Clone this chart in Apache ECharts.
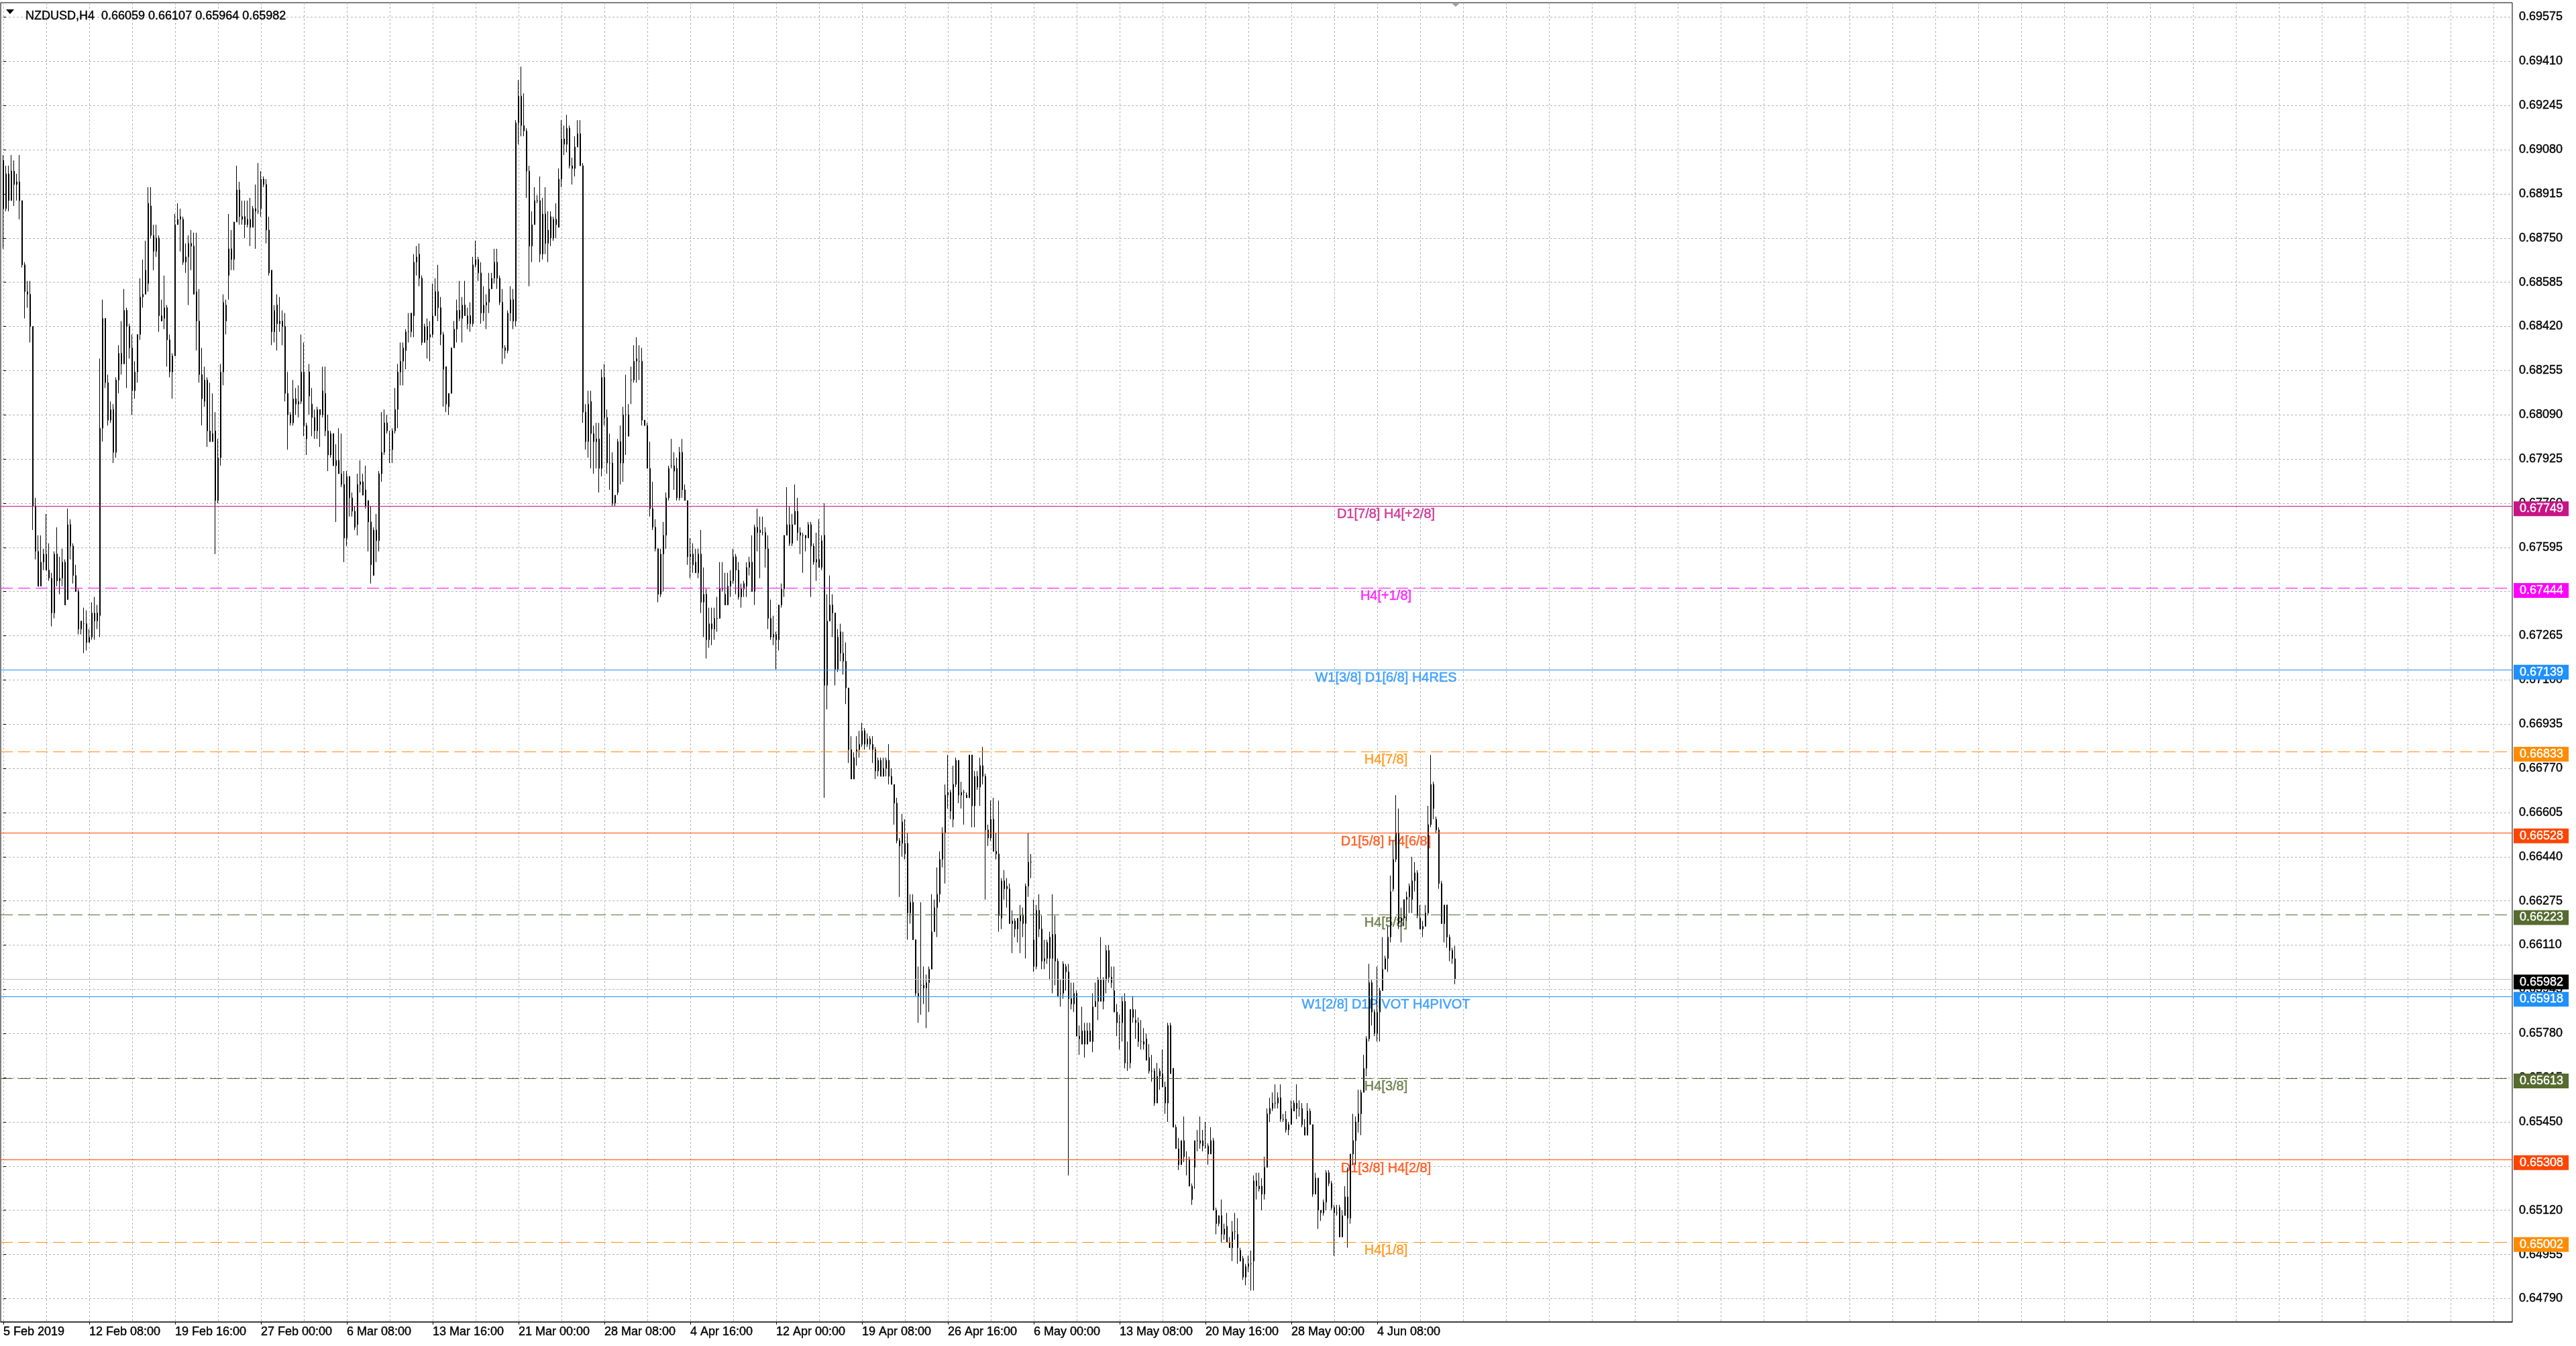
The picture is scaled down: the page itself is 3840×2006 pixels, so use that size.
<!DOCTYPE html>
<html>
<head>
<meta charset="utf-8">
<script src="https://cdn.jsdelivr.net/npm/echarts@6/dist/echarts.min.js"></script>
<style>
html,body{margin:0;padding:0;background:#ffffff;}
#chart{width:3840px;height:2006px;}
</style>
</head>
<body>
<div id="chart"></div>
<script>
// ---------------- DATA ----------------
const chartTitle = 'NZDUSD,H4  0.66059 0.66107 0.65964 0.65982';

// x-axis tick labels (one every 32 H4 bars)
const timeLabels = ['5 Feb 2019','12 Feb 08:00','19 Feb 16:00','27 Feb 00:00','6 Mar 08:00','13 Mar 16:00',
  '21 Mar 00:00','28 Mar 08:00','4 Apr 16:00','12 Apr 00:00','19 Apr 08:00','26 Apr 16:00','6 May 00:00',
  '13 May 08:00','20 May 16:00','28 May 00:00','4 Jun 08:00'];

// price-scale tick labels
const priceTicks = [0.69575,0.69410,0.69245,0.69080,0.68915,0.68750,0.68585,0.68420,0.68255,0.68090,
  0.67925,0.67760,0.67595,0.67430,0.67265,0.67100,0.66935,0.66770,0.66605,0.66440,0.66275,0.66110,
  0.65945,0.65780,0.65615,0.65450,0.65285,0.65120,0.64955,0.64790];

// Murrey-math style levels
const levelPrices = [0.67749,0.67444,0.67139,0.66833,0.66528,0.66223,0.65918,0.65613,0.65308,0.65002];
const levelNames = ['D1[7/8] H4[+2/8]','H4[+1/8]','W1[3/8] D1[6/8] H4RES','H4[7/8]','D1[5/8] H4[6/8]',
  'H4[5/8]','W1[2/8] D1PIVOT H4PIVOT','H4[3/8]','D1[3/8] H4[2/8]','H4[1/8]'];
const bidPrice = 0.65982;

// H4 bars: [open, high, low, close]
const bars = [
[0.6904,0.6906,0.6871,0.6886],[0.6886,0.6902,0.6885,0.6899],[0.6899,0.6902,0.6885,0.6889],[0.6889,0.6906,0.6889,0.6900],
[0.6900,0.6904,0.6887,0.6895],[0.6895,0.6899,0.6889,0.6896],[0.6896,0.6906,0.6882,0.6889],[0.6889,0.6889,0.6864,0.6865],
[0.6865,0.6866,0.6845,0.6855],[0.6855,0.6859,0.6849,0.6854],[0.6854,0.6859,0.6836,0.6842],[0.6842,0.6842,0.6766,0.6775],
[0.6775,0.6778,0.6755,0.6758],[0.6758,0.6764,0.6745,0.6745],[0.6745,0.6764,0.6745,0.6754],[0.6754,0.6759,0.6751,0.6757],
[0.6757,0.6772,0.6751,0.6751],[0.6751,0.6761,0.6747,0.6748],[0.6748,0.6750,0.6730,0.6735],[0.6735,0.6758,0.6733,0.6757],
[0.6757,0.6767,0.6745,0.6747],[0.6747,0.6756,0.6742,0.6748],[0.6748,0.6759,0.6745,0.6754],[0.6754,0.6755,0.6738,0.6738],
[0.6740,0.6774,0.6740,0.6768],[0.6768,0.6770,0.6755,0.6760],[0.6760,0.6761,0.6746,0.6749],[0.6749,0.6753,0.6743,0.6743],
[0.6743,0.6744,0.6727,0.6729],[0.6729,0.6732,0.6727,0.6732],[0.6731,0.6737,0.6720,0.6731],[0.6731,0.6736,0.6721,0.6724],
[0.6724,0.6729,0.6724,0.6726],[0.6726,0.6739,0.6725,0.6735],[0.6735,0.6741,0.6725,0.6732],[0.6732,0.6738,0.6729,0.6735],
[0.6734,0.6830,0.6726,0.6804],[0.6804,0.6852,0.6799,0.6845],[0.6845,0.6845,0.6819,0.6821],[0.6821,0.6824,0.6805,0.6807],
[0.6807,0.6814,0.6806,0.6811],[0.6811,0.6813,0.6791,0.6795],[0.6795,0.6823,0.6793,0.6822],[0.6822,0.6835,0.6817,0.6832],
[0.6832,0.6844,0.6824,0.6828],[0.6828,0.6856,0.6828,0.6848],[0.6848,0.6849,0.6819,0.6842],[0.6842,0.6843,0.6830,0.6834],
[0.6834,0.6839,0.6809,0.6818],[0.6818,0.6829,0.6815,0.6825],[0.6825,0.6839,0.6821,0.6839],[0.6839,0.6860,0.6837,0.6853],
[0.6853,0.6867,0.6849,0.6854],[0.6854,0.6874,0.6854,0.6863],[0.6858,0.6894,0.6855,0.6888],[0.6887,0.6894,0.6875,0.6876],
[0.6876,0.6880,0.6863,0.6870],[0.6870,0.6880,0.6868,0.6875],[0.6875,0.6876,0.6840,0.6846],[0.6846,0.6852,0.6844,0.6844],
[0.6845,0.6861,0.6841,0.6849],[0.6849,0.6850,0.6827,0.6837],[0.6837,0.6839,0.6823,0.6825],[0.6825,0.6832,0.6815,0.6831],
[0.6831,0.6884,0.6831,0.6880],[0.6880,0.6888,0.6880,0.6882],[0.6882,0.6886,0.6870,0.6883],[0.6882,0.6883,0.6865,0.6866],
[0.6866,0.6873,0.6862,0.6868],[0.6868,0.6876,0.6850,0.6873],[0.6873,0.6878,0.6863,0.6872],[0.6872,0.6877,0.6854,0.6854],
[0.6855,0.6877,0.6833,0.6844],[0.6844,0.6856,0.6821,0.6824],[0.6824,0.6834,0.6805,0.6815],[0.6814,0.6827,0.6812,0.6822],
[0.6822,0.6823,0.6797,0.6803],[0.6803,0.6821,0.6799,0.6799],[0.6799,0.6817,0.6799,0.6802],[0.6803,0.6810,0.6757,0.6777],
[0.6777,0.6800,0.6776,0.6793],[0.6793,0.6828,0.6790,0.6825],[0.6825,0.6854,0.6820,0.6851],[0.6850,0.6852,0.6839,0.6844],
[0.6861,0.6884,0.6852,0.6871],[0.6871,0.6878,0.6863,0.6867],[0.6867,0.6881,0.6863,0.6881],[0.6881,0.6902,0.6881,0.6893],
[0.6893,0.6896,0.6880,0.6883],[0.6883,0.6889,0.6880,0.6882],[0.6883,0.6889,0.6875,0.6880],[0.6880,0.6889,0.6879,0.6882],
[0.6882,0.6890,0.6872,0.6879],[0.6879,0.6887,0.6879,0.6886],[0.6885,0.6895,0.6871,0.6886],[0.6885,0.6903,0.6884,0.6885],
[0.6886,0.6900,0.6883,0.6897],[0.6897,0.6898,0.6894,0.6895],[0.6895,0.6897,0.6873,0.6878],[0.6878,0.6883,0.6861,0.6862],
[0.6863,0.6863,0.6835,0.6840],[0.6840,0.6850,0.6836,0.6848],[0.6850,0.6854,0.6833,0.6843],[0.6843,0.6853,0.6840,0.6844],
[0.6844,0.6848,0.6835,0.6842],[0.6842,0.6847,0.6814,0.6817],[0.6817,0.6825,0.6796,0.6809],[0.6809,0.6810,0.6805,0.6806],
[0.6806,0.6822,0.6805,0.6815],[0.6815,0.6819,0.6809,0.6813],[0.6813,0.6820,0.6808,0.6814],[0.6814,0.6839,0.6813,0.6825],
[0.6825,0.6836,0.6801,0.6805],[0.6805,0.6806,0.6794,0.6800],[0.6825,0.6828,0.6809,0.6816],[0.6813,0.6819,0.6801,0.6808],
[0.6808,0.6811,0.6800,0.6803],[0.6803,0.6812,0.6800,0.6811],[0.6811,0.6811,0.6797,0.6809],[0.6809,0.6827,0.6808,0.6818],
[0.6817,0.6827,0.6801,0.6803],[0.6803,0.6809,0.6788,0.6794],[0.6794,0.6803,0.6793,0.6802],[0.6802,0.6802,0.6790,0.6790],
[0.6790,0.6798,0.6769,0.6792],[0.6792,0.6804,0.6787,0.6787],[0.6787,0.6802,0.6782,0.6783],[0.6783,0.6788,0.6754,0.6763],
[0.6763,0.6788,0.6760,0.6786],[0.6786,0.6786,0.6771,0.6778],[0.6778,0.6780,0.6771,0.6773],[0.6773,0.6775,0.6766,0.6767],
[0.6768,0.6787,0.6764,0.6783],[0.6783,0.6792,0.6780,0.6784],[0.6784,0.6787,0.6779,0.6779],[0.6781,0.6790,0.6774,0.6775],
[0.6777,0.6777,0.6758,0.6769],[0.6769,0.6775,0.6746,0.6753],[0.6749,0.6767,0.6749,0.6766],[0.6766,0.6772,0.6754,0.6762],
[0.6762,0.6788,0.6758,0.6787],[0.6787,0.6810,0.6784,0.6795],[0.6795,0.6811,0.6794,0.6806],[0.6806,0.6809,0.6802,0.6803],
[0.6796,0.6803,0.6791,0.6796],[0.6796,0.6804,0.6791,0.6803],[0.6803,0.6819,0.6802,0.6811],[0.6811,0.6828,0.6804,0.6825],
[0.6825,0.6836,0.6820,0.6829],[0.6829,0.6836,0.6820,0.6834],[0.6833,0.6841,0.6826,0.6840],[0.6840,0.6847,0.6836,0.6840],
[0.6840,0.6847,0.6838,0.6847],[0.6846,0.6869,0.6838,0.6866],[0.6866,0.6872,0.6861,0.6868],[0.6869,0.6873,0.6857,0.6860],
[0.6860,0.6861,0.6835,0.6836],[0.6836,0.6843,0.6836,0.6842],[0.6842,0.6845,0.6830,0.6837],[0.6838,0.6844,0.6829,0.6839],
[0.6839,0.6858,0.6838,0.6846],[0.6846,0.6860,0.6846,0.6855],[0.6855,0.6865,0.6844,0.6849],[0.6849,0.6853,0.6835,0.6839],
[0.6839,0.6840,0.6812,0.6826],[0.6827,0.6827,0.6810,0.6813],[0.6812,0.6817,0.6809,0.6817],[0.6817,0.6834,0.6817,0.6834],
[0.6834,0.6844,0.6834,0.6841],[0.6841,0.6852,0.6836,0.6848],[0.6848,0.6859,0.6844,0.6845],[0.6845,0.6853,0.6836,0.6850],
[0.6850,0.6859,0.6846,0.6846],[0.6846,0.6849,0.6841,0.6843],[0.6846,0.6851,0.6840,0.6843],[0.6843,0.6868,0.6842,0.6865],
[0.6865,0.6874,0.6864,0.6867],[0.6867,0.6868,0.6859,0.6862],[0.6862,0.6866,0.6843,0.6847],[0.6847,0.6857,0.6844,0.6850],
[0.6850,0.6854,0.6841,0.6851],[0.6851,0.6862,0.6847,0.6856],[0.6856,0.6862,0.6856,0.6860],[0.6860,0.6871,0.6858,0.6866],
[0.6866,0.6871,0.6856,0.6860],[0.6860,0.6861,0.6850,0.6851],[0.6851,0.6856,0.6828,0.6834],[0.6834,0.6835,0.6830,0.6833],
[0.6833,0.6848,0.6832,0.6847],[0.6847,0.6857,0.6844,0.6852],[0.6852,0.6856,0.6841,0.6844],[0.6844,0.6919,0.6842,0.6918],
[0.6918,0.6934,0.6910,0.6928],[0.6928,0.6939,0.6913,0.6917],[0.6917,0.6929,0.6913,0.6915],[0.6915,0.6916,0.6890,0.6900],
[0.6900,0.6902,0.6857,0.6872],[0.6872,0.6885,0.6866,0.6880],[0.6880,0.6894,0.6880,0.6889],[0.6889,0.6891,0.6888,0.6889],
[0.6889,0.6898,0.6866,0.6869],[0.6869,0.6890,0.6867,0.6884],[0.6884,0.6894,0.6869,0.6873],[0.6873,0.6885,0.6866,0.6878],
[0.6883,0.6885,0.6872,0.6875],[0.6875,0.6883,0.6874,0.6882],[0.6882,0.6888,0.6875,0.6880],[0.6879,0.6901,0.6879,0.6897],
[0.6897,0.6919,0.6894,0.6912],[0.6912,0.6917,0.6906,0.6910],[0.6910,0.6921,0.6907,0.6916],[0.6916,0.6917,0.6901,0.6902],
[0.6902,0.6905,0.6895,0.6901],[0.6901,0.6913,0.6898,0.6909],[0.6909,0.6919,0.6909,0.6914],[0.6914,0.6919,0.6902,0.6902],
[0.6902,0.6903,0.6806,0.6810],[0.6810,0.6813,0.6796,0.6799],[0.6799,0.6818,0.6793,0.6813],[0.6814,0.6818,0.6789,0.6802],
[0.6802,0.6805,0.6787,0.6799],[0.6799,0.6806,0.6789,0.6800],[0.6800,0.6806,0.6780,0.6789],[0.6789,0.6826,0.6786,0.6823],
[0.6823,0.6828,0.6805,0.6808],[0.6808,0.6811,0.6787,0.6791],[0.6791,0.6802,0.6781,0.6791],[0.6791,0.6795,0.6775,0.6776],
[0.6776,0.6779,0.6775,0.6779],[0.6780,0.6800,0.6779,0.6799],[0.6799,0.6805,0.6783,0.6791],[0.6791,0.6812,0.6784,0.6809],
[0.6809,0.6824,0.6794,0.6809],[0.6809,0.6813,0.6801,0.6801],[0.6822,0.6827,0.6813,0.6822],[0.6822,0.6835,0.6821,0.6829],
[0.6829,0.6838,0.6821,0.6830],[0.6829,0.6835,0.6822,0.6829],[0.6829,0.6834,0.6805,0.6807],[0.6807,0.6807,0.6805,0.6805],
[0.6805,0.6806,0.6789,0.6789],[0.6789,0.6799,0.6771,0.6774],[0.6774,0.6784,0.6766,0.6767],[0.6767,0.6770,0.6758,0.6759],
[0.6759,0.6759,0.6739,0.6742],[0.6742,0.6759,0.6741,0.6757],[0.6757,0.6769,0.6743,0.6764],[0.6764,0.6780,0.6759,0.6778],
[0.6778,0.6790,0.6777,0.6789],[0.6790,0.6800,0.6789,0.6790],[0.6790,0.6795,0.6781,0.6788],[0.6789,0.6793,0.6777,0.6778],
[0.6778,0.6797,0.6777,0.6795],[0.6795,0.6800,0.6778,0.6781],[0.6781,0.6783,0.6777,0.6777],[0.6777,0.6777,0.6753,0.6756],
[0.6756,0.6763,0.6748,0.6757],[0.6757,0.6761,0.6750,0.6753],[0.6754,0.6759,0.6750,0.6750],[0.6750,0.6759,0.6748,0.6757],
[0.6757,0.6766,0.6735,0.6739],[0.6739,0.6752,0.6726,0.6742],[0.6742,0.6744,0.6718,0.6725],[0.6725,0.6737,0.6722,0.6731],
[0.6731,0.6737,0.6723,0.6729],[0.6729,0.6737,0.6725,0.6733],[0.6733,0.6741,0.6728,0.6733],[0.6733,0.6754,0.6733,0.6744],
[0.6744,0.6754,0.6743,0.6744],[0.6742,0.6750,0.6738,0.6738],[0.6738,0.6750,0.6738,0.6745],[0.6745,0.6751,0.6741,0.6747],
[0.6747,0.6759,0.6746,0.6756],[0.6756,0.6757,0.6742,0.6751],[0.6751,0.6754,0.6740,0.6741],[0.6741,0.6746,0.6737,0.6744],
[0.6744,0.6747,0.6741,0.6746],[0.6745,0.6754,0.6741,0.6752],[0.6752,0.6756,0.6749,0.6754],[0.6754,0.6764,0.6743,0.6743],
[0.6743,0.6768,0.6738,0.6767],[0.6767,0.6774,0.6758,0.6765],[0.6765,0.6771,0.6748,0.6766],[0.6765,0.6771,0.6764,0.6765],
[0.6765,0.6767,0.6752,0.6759],[0.6759,0.6764,0.6729,0.6733],[0.6733,0.6740,0.6725,0.6726],[0.6727,0.6734,0.6723,0.6726],
[0.6727,0.6728,0.6714,0.6725],[0.6725,0.6738,0.6721,0.6738],[0.6738,0.6746,0.6737,0.6744],[0.6744,0.6764,0.6741,0.6764],
[0.6764,0.6782,0.6764,0.6768],[0.6768,0.6775,0.6760,0.6761],[0.6761,0.6772,0.6760,0.6768],[0.6768,0.6783,0.6768,0.6773],
[0.6773,0.6778,0.6762,0.6765],[0.6765,0.6767,0.6757,0.6764],[0.6764,0.6765,0.6750,0.6764],[0.6764,0.6764,0.6758,0.6763],
[0.6763,0.6769,0.6763,0.6768],[0.6768,0.6769,0.6741,0.6760],[0.6760,0.6761,0.6753,0.6754],[0.6754,0.6765,0.6747,0.6755],
[0.6755,0.6770,0.6752,0.6752],[0.6752,0.6764,0.6751,0.6762],[0.6764,0.6776,0.6666,0.6708],[0.6708,0.6742,0.6699,0.6732],
[0.6732,0.6749,0.6732,0.6738],[0.6738,0.6742,0.6726,0.6735],[0.6735,0.6735,0.6708,0.6714],[0.6714,0.6729,0.6713,0.6726],
[0.6728,0.6731,0.6717,0.6720],[0.6720,0.6728,0.6712,0.6717],[0.6717,0.6724,0.6701,0.6707],[0.6707,0.6707,0.6679,0.6684],
[0.6684,0.6689,0.6673,0.6673],[0.6673,0.6683,0.6673,0.6681],[0.6683,0.6689,0.6678,0.6684],[0.6684,0.6691,0.6681,0.6686],
[0.6686,0.6694,0.6685,0.6691],[0.6691,0.6692,0.6684,0.6686],[0.6686,0.6690,0.6685,0.6688],[0.6688,0.6689,0.6684,0.6686],
[0.6686,0.6689,0.6679,0.6684],[0.6684,0.6685,0.6673,0.6676],[0.6676,0.6681,0.6674,0.6680],[0.6680,0.6681,0.6674,0.6674],
[0.6674,0.6681,0.6674,0.6677],[0.6677,0.6681,0.6674,0.6680],[0.6680,0.6686,0.6671,0.6674],[0.6674,0.6677,0.6671,0.6671],
[0.6671,0.6671,0.6656,0.6664],[0.6664,0.6666,0.6649,0.6650],[0.6650,0.6651,0.6629,0.6648],[0.6649,0.6660,0.6644,0.6657],
[0.6645,0.6658,0.6643,0.6649],[0.6649,0.6653,0.6613,0.6623],[0.6623,0.6630,0.6619,0.6627],[0.6627,0.6630,0.6613,0.6613],
[0.6613,0.6613,0.6592,0.6593],[0.6593,0.6603,0.6582,0.6592],[0.6596,0.6627,0.6585,0.6596],[0.6596,0.6603,0.6589,0.6595],
[0.6595,0.6600,0.6580,0.6597],[0.6597,0.6603,0.6586,0.6602],[0.6602,0.6630,0.6602,0.6616],[0.6616,0.6628,0.6616,0.6625],
[0.6625,0.6640,0.6614,0.6630],[0.6630,0.6646,0.6627,0.6643],[0.6643,0.6655,0.6640,0.6653],[0.6653,0.6671,0.6634,0.6667],
[0.6667,0.6682,0.6662,0.6668],[0.6668,0.6669,0.6658,0.6661],[0.6658,0.6678,0.6655,0.6671],[0.6671,0.6681,0.6670,0.6680],
[0.6680,0.6680,0.6664,0.6667],[0.6667,0.6672,0.6662,0.6668],[0.6668,0.6669,0.6656,0.6668],[0.6667,0.6668,0.6666,0.6666],
[0.6666,0.6682,0.6666,0.6682],[0.6682,0.6682,0.6655,0.6663],[0.6663,0.6676,0.6655,0.6674],[0.6674,0.6676,0.6669,0.6670],
[0.6670,0.6681,0.6663,0.6678],[0.6678,0.6685,0.6671,0.6674],[0.6674,0.6675,0.6628,0.6654],[0.6654,0.6656,0.6648,0.6651],
[0.6651,0.6665,0.6650,0.6658],[0.6658,0.6666,0.6646,0.6646],[0.6646,0.6653,0.6643,0.6645],[0.6645,0.6665,0.6616,0.6622],
[0.6621,0.6636,0.6617,0.6635],[0.6635,0.6639,0.6628,0.6632],[0.6632,0.6636,0.6625,0.6633],[0.6632,0.6634,0.6619,0.6619],
[0.6619,0.6624,0.6608,0.6620],[0.6620,0.6621,0.6614,0.6617],[0.6617,0.6621,0.6612,0.6621],[0.6620,0.6626,0.6608,0.6622],
[0.6622,0.6625,0.6614,0.6619],[0.6619,0.6634,0.6606,0.6633],[0.6633,0.6653,0.6629,0.6642],[0.6642,0.6645,0.6636,0.6642],
[0.6613,0.6628,0.6601,0.6603],[0.6603,0.6626,0.6602,0.6624],[0.6624,0.6630,0.6614,0.6617],[0.6617,0.6622,0.6602,0.6605],
[0.6605,0.6613,0.6602,0.6606],[0.6606,0.6613,0.6604,0.6612],[0.6614,0.6616,0.6598,0.6606],[0.6606,0.6630,0.6593,0.6615],
[0.6615,0.6622,0.6596,0.6605],[0.6605,0.6606,0.6592,0.6592],[0.6593,0.6598,0.6588,0.6593],[0.6593,0.6605,0.6591,0.6604],
[0.6603,0.6604,0.6594,0.6601],[0.6601,0.6604,0.6525,0.6591],[0.6591,0.6597,0.6587,0.6589],[0.6589,0.6597,0.6586,0.6593],
[0.6593,0.6594,0.6577,0.6577],[0.6577,0.6581,0.6570,0.6576],[0.6574,0.6588,0.6574,0.6579],[0.6579,0.6582,0.6569,0.6574],
[0.6574,0.6582,0.6574,0.6579],[0.6579,0.6582,0.6575,0.6575],[0.6575,0.6593,0.6571,0.6588],[0.6588,0.6597,0.6588,0.6590],
[0.6590,0.6599,0.6583,0.6598],[0.6598,0.6614,0.6590,0.6590],[0.6590,0.6599,0.6587,0.6598],[0.6598,0.6611,0.6593,0.6609],
[0.6609,0.6611,0.6597,0.6599],[0.6599,0.6603,0.6595,0.6597],[0.6594,0.6603,0.6586,0.6586],[0.6586,0.6589,0.6577,0.6582],
[0.6582,0.6585,0.6572,0.6582],[0.6582,0.6592,0.6575,0.6590],[0.6590,0.6593,0.6565,0.6567],[0.6567,0.6575,0.6564,0.6567],
[0.6567,0.6587,0.6565,0.6587],[0.6587,0.6592,0.6582,0.6584],[0.6583,0.6587,0.6576,0.6582],[0.6582,0.6584,0.6573,0.6575],
[0.6575,0.6583,0.6572,0.6575],[0.6575,0.6580,0.6572,0.6574],[0.6576,0.6578,0.6568,0.6568],[0.6569,0.6574,0.6563,0.6564],
[0.6564,0.6570,0.6560,0.6564],[0.6564,0.6565,0.6551,0.6552],[0.6552,0.6567,0.6552,0.6562],[0.6562,0.6565,0.6557,0.6564],
[0.6563,0.6572,0.6558,0.6558],[0.6558,0.6560,0.6548,0.6552],[0.6552,0.6582,0.6545,0.6581],[0.6581,0.6582,0.6563,0.6563],
[0.6565,0.6565,0.6543,0.6543],[0.6543,0.6544,0.6535,0.6535],[0.6535,0.6539,0.6527,0.6529],[0.6529,0.6538,0.6529,0.6538],
[0.6538,0.6547,0.6530,0.6532],[0.6531,0.6534,0.6525,0.6531],[0.6531,0.6532,0.6521,0.6521],[0.6521,0.6522,0.6514,0.6516],
[0.6528,0.6538,0.6520,0.6538],[0.6538,0.6542,0.6534,0.6538],[0.6538,0.6547,0.6535,0.6537],[0.6538,0.6542,0.6534,0.6536],
[0.6536,0.6545,0.6535,0.6536],[0.6536,0.6537,0.6529,0.6533],[0.6533,0.6543,0.6533,0.6538],[0.6538,0.6539,0.6512,0.6512],
[0.6512,0.6513,0.6503,0.6507],[0.6507,0.6510,0.6506,0.6510],[0.6510,0.6516,0.6500,0.6503],[0.6503,0.6507,0.6501,0.6505],
[0.6506,0.6511,0.6500,0.6500],[0.6500,0.6502,0.6498,0.6498],[0.6498,0.6508,0.6493,0.6504],[0.6504,0.6511,0.6501,0.6504],
[0.6503,0.6509,0.6492,0.6498],[0.6497,0.6498,0.6493,0.6493],[0.6494,0.6495,0.6486,0.6487],[0.6487,0.6492,0.6484,0.6491],
[0.6491,0.6495,0.6489,0.6492],[0.6492,0.6497,0.6482,0.6492],[0.6493,0.6525,0.6482,0.6523],[0.6523,0.6526,0.6516,0.6521],
[0.6520,0.6526,0.6519,0.6521],[0.6521,0.6524,0.6512,0.6518],[0.6518,0.6532,0.6516,0.6528],[0.6528,0.6550,0.6528,0.6548],
[0.6548,0.6554,0.6545,0.6550],[0.6550,0.6556,0.6549,0.6552],[0.6552,0.6559,0.6550,0.6552],[0.6552,0.6556,0.6550,0.6554],
[0.6554,0.6559,0.6545,0.6546],[0.6546,0.6548,0.6545,0.6546],[0.6546,0.6549,0.6541,0.6542],[0.6542,0.6545,0.6540,0.6544],
[0.6544,0.6553,0.6544,0.6550],[0.6549,0.6553,0.6549,0.6552],[0.6552,0.6559,0.6546,0.6550],[0.6550,0.6553,0.6547,0.6550],
[0.6550,0.6552,0.6543,0.6544],[0.6543,0.6546,0.6540,0.6540],[0.6540,0.6552,0.6540,0.6549],[0.6549,0.6550,0.6544,0.6544],
[0.6544,0.6544,0.6517,0.6518],[0.6518,0.6526,0.6518,0.6524],[0.6524,0.6524,0.6505,0.6512],[0.6511,0.6512,0.6508,0.6512],
[0.6511,0.6516,0.6510,0.6515],[0.6515,0.6527,0.6512,0.6526],[0.6526,0.6527,0.6521,0.6522],[0.6522,0.6523,0.6512,0.6513],
[0.6513,0.6514,0.6495,0.6511],[0.6511,0.6514,0.6510,0.6511],[0.6513,0.6514,0.6502,0.6502],[0.6502,0.6512,0.6502,0.6510],
[0.6510,0.6521,0.6510,0.6517],[0.6517,0.6528,0.6498,0.6509],[0.6509,0.6533,0.6507,0.6533],[0.6533,0.6548,0.6529,0.6538],
[0.6538,0.6547,0.6529,0.6545],[0.6545,0.6557,0.6541,0.6548],[0.6548,0.6557,0.6540,0.6556],[0.6556,0.6570,0.6556,0.6565],
[0.6565,0.6577,0.6562,0.6576],[0.6576,0.6604,0.6575,0.6597],[0.6597,0.6598,0.6581,0.6586],[0.6586,0.6587,0.6577,0.6578],
[0.6578,0.6603,0.6575,0.6586],[0.6586,0.6595,0.6575,0.6594],[0.6594,0.6614,0.6594,0.6602],[0.6602,0.6607,0.6602,0.6606],
[0.6606,0.6618,0.6601,0.6614],[0.6614,0.6637,0.6612,0.6631],[0.6632,0.6650,0.6631,0.6643],[0.6643,0.6667,0.6642,0.6653],
[0.6653,0.6662,0.6617,0.6619],[0.6620,0.6625,0.6612,0.6621],[0.6621,0.6628,0.6618,0.6628],[0.6628,0.6631,0.6620,0.6629],
[0.6629,0.6634,0.6623,0.6633],[0.6628,0.6644,0.6623,0.6635],[0.6635,0.6642,0.6631,0.6638],[0.6638,0.6639,0.6621,0.6622],
[0.6621,0.6626,0.6617,0.6617],[0.6617,0.6620,0.6614,0.6618],[0.6618,0.6626,0.6618,0.6623],[0.6623,0.6663,0.6622,0.6656],
[0.6656,0.6682,0.6655,0.6671],[0.6671,0.6672,0.6658,0.6662],[0.6658,0.6659,0.6653,0.6654],[0.6654,0.6655,0.6632,0.6634],
[0.6634,0.6635,0.6619,0.6619],[0.6619,0.6626,0.6612,0.6626],[0.6626,0.6626,0.6610,0.6614],[0.6614,0.6615,0.6605,0.6609],
[0.6609,0.6610,0.6604,0.6606],[0.66059,0.66107,0.65964,0.65982]
];

// ---------------- STYLE / LAYOUT ----------------
const FONT = 'Liberation Sans';
const BARS_PER_LABEL = 32;
const BARS_PER_GRID = 16;
const X_MIN = -1, X_MAX = 935;          // 936 slots of 4px
const Y_MIN = 0.647033, Y_MAX = 0.696289;
const LEVEL_TEXT_X = 515.25;            // where the level names are centred
const levelColors = ['#C71585','#FF00FF','#1E90FF','#FF8C00','#FF4500','#556B2F','#1E90FF','#556B2F','#FF4500','#FF8C00'];
const levelDashed = [false,true,false,true,false,true,false,true,false,true];
const gridColor = '#b4b4b4';

const labelBars = timeLabels.map((_, k) => k * BARS_PER_LABEL);
const gridBars = [];
for (let v = 0; v <= X_MAX; v += BARS_PER_GRID) gridBars.push(v);

const candleData = bars.map((b, i) => [i, b[0], b[3], b[2], b[1]]);

const tagLabel = (bg) => ({
  show: true, position: 'end', distance: 2, offset: [0, 4], color: '#ffffff', fontFamily: FONT, fontSize: 18,
  textBorderColor: '#ffffff', textBorderWidth: 0.4,
  backgroundColor: bg, padding: [2, 8, 2, 9], lineHeight: 18
});

const markLines = levelPrices.map((p, i) => ({
  yAxis: p,
  lineStyle: {color: levelColors[i], width: 1, type: levelDashed[i] ? [18, 8] : 'solid'},
  label: Object.assign(tagLabel(levelColors[i]), {formatter: p.toFixed(5)})
}));
markLines.push({
  yAxis: bidPrice,
  lineStyle: {color: '#C0C0C0', width: 1, type: 'solid'},
  label: Object.assign(tagLabel('#000000'), {formatter: bidPrice.toFixed(5)})
});

const levelTextData = levelPrices.map((p, i) => ({
  value: [LEVEL_TEXT_X, p],
  label: {color: levelColors[i], textBorderColor: levelColors[i], textBorderWidth: 0.5}
}));

const chart = echarts.init(document.getElementById('chart'), null, {renderer: 'canvas'});
chart.setOption({
  animation: false,
  backgroundColor: '#ffffff',
  title: {
    text: chartTitle, left: 33, top: 10,
    textStyle: {fontFamily: FONT, fontSize: 18, fontWeight: 'normal', color: '#000000',
      textBorderColor: '#000000', textBorderWidth: 0.4}
  },
  grid: {left: 1, right: 95, top: 4, bottom: 36, show: true, borderColor: '#000000', borderWidth: 1, backgroundColor: '#ffffff'},
  xAxis: [{
    type: 'value', min: X_MIN, max: X_MAX, position: 'bottom',
    axisLine: {show: true, onZero: false, lineStyle: {color: '#000000', width: 1}},
    axisTick: {show: true, length: 4, customValues: labelBars, lineStyle: {color: '#000000'}},
    axisLabel: {
      customValues: labelBars, align: 'left', margin: 6, color: '#000000', fontFamily: FONT, fontSize: 18,
      textBorderColor: '#000000', textBorderWidth: 0.4,
      formatter: v => timeLabels[Math.round(v / BARS_PER_LABEL)] || ''
    },
    splitLine: {show: false}
  }, {
    type: 'value', min: X_MIN, max: X_MAX, position: 'top',
    axisLine: {show: false}, axisLabel: {show: false},
    axisTick: {show: false, customValues: gridBars},
    splitLine: {show: true, lineStyle: {color: gridColor, width: 1, type: [3, 3]}}
  }],
  yAxis: {
    type: 'value', position: 'right', min: Y_MIN, max: Y_MAX, scale: true,
    axisLine: {show: false},
    axisTick: {show: true, length: 4, customValues: priceTicks, lineStyle: {color: '#000000'}},
    axisLabel: {
      customValues: priceTicks, margin: 10, align: 'left', color: '#000000', fontFamily: FONT, fontSize: 18,
      textBorderColor: '#000000', textBorderWidth: 0.4,
      formatter: v => v.toFixed(5)
    },
    splitLine: {show: true, lineStyle: {color: gridColor, width: 1, type: [3, 3]}}
  },
  series: [{
    type: 'scatter', xAxisIndex: 0, yAxisIndex: 0, z: 1, clip: false, silent: true,
    symbolSize: 1, itemStyle: {color: 'rgba(0,0,0,0)'},
    data: levelTextData,
    label: {
      show: true, position: 'bottom', distance: 2, fontFamily: FONT, fontSize: 20,
      formatter: p => levelNames[p.dataIndex]
    },
    markLine: {silent: true, symbol: ['none', 'none'], animation: false, precision: 5, data: markLines}
  }, {
    type: 'candlestick', xAxisIndex: 0, yAxisIndex: 0, z: 3, silent: true,
    barWidth: 2,
    itemStyle: {color: '#ffffff', color0: '#000000', borderColor: '#000000', borderColor0: '#000000', borderWidth: 1},
    data: candleData
  }],
  graphic: [{
    type: 'polygon', silent: true, z: 10,
    shape: {points: [[9, 14], [21, 14], [15, 21]]},
    style: {fill: '#000000'}
  }, {
    type: 'polygon', silent: true, z: 10,
    shape: {points: [[2163, 4], [2177, 4], [2170, 10]]},
    style: {fill: '#a0a0a0'}
  }]
});
</script>
</body>
</html>
